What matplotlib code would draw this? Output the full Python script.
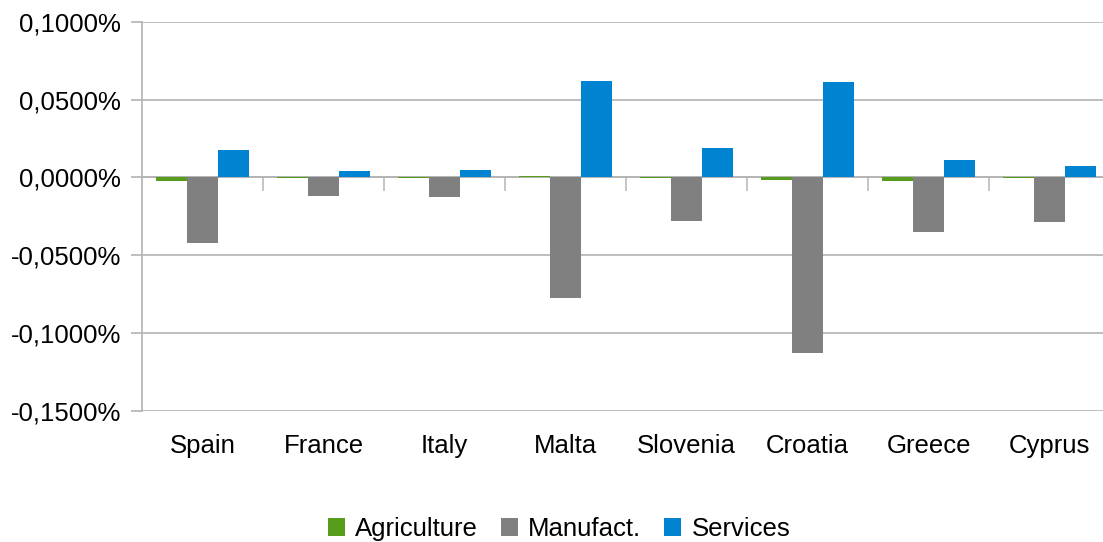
import matplotlib.pyplot as plt
import numpy as np
from matplotlib.ticker import FuncFormatter, FixedLocator

countries = ['Spain', 'France', 'Italy', 'Malta', 'Slovenia', 'Croatia', 'Greece', 'Cyprus']
agriculture = [-0.0026, -0.0003, -0.0003, 0.0009, -0.0003, -0.0017, -0.0026, -0.0003]
manufact = [-0.0423, -0.0120, -0.0129, -0.0773, -0.0282, -0.1128, -0.0352, -0.0288]
services = [0.0174, 0.0039, 0.0045, 0.0619, 0.0187, 0.0612, 0.0110, 0.0071]
yticks = [-0.15, -0.10, -0.05, 0.0, 0.05, 0.10]

plt.rcParams['font.family'] = ['Liberation Sans', 'DejaVu Sans']
fs = 18.5

fig = plt.figure(figsize=(11.03, 5.42), dpi=100)
ax = fig.add_axes([142 / 1103, 131 / 542, 968 / 1103, 389 / 542])

x = np.arange(len(countries))
w = 31 / 121
ax.bar(x - w, agriculture, w, color='#579d1c', label='Agriculture', zorder=3)
ax.bar(x, manufact, w, color='#808080', label='Manufact.', zorder=3)
ax.bar(x + w, services, w, color='#0084d1', label='Services', zorder=3)

ax.set_xlim(-0.5, len(countries) - 0.5)
ax.set_ylim(-0.1503, 0.10)
ax.set_yticks(yticks)
ax.yaxis.set_major_formatter(FuncFormatter(lambda v, p: ('%.4f%%' % v).replace('.', ',')))
ax.grid(axis='y', color='#b3b3b3', lw=1.2)
ax.set_axisbelow(True)

for s in ['top', 'right']:
    ax.spines[s].set_visible(False)
ax.spines['left'].set_color('#b3b3b3')
ax.spines['left'].set_linewidth(1.2)
ax.spines['bottom'].set_position(('data', 0))
ax.spines['bottom'].set_color('#b3b3b3')
ax.spines['bottom'].set_linewidth(1.2)

ax.set_xticks(x)
ax.set_xticklabels(countries)
ax.xaxis.set_minor_locator(FixedLocator(x[:-1] + 0.5))
ax.tick_params(axis='x', which='major', length=0, pad=185, labelsize=fs)
ax.tick_params(axis='x', which='minor', length=10, width=1.3, color='#c0c0c0', direction='out')
ax.tick_params(axis='y', length=8, width=1.2, color='#b3b3b3', labelsize=fs, pad=7)

fig.legend(loc='center', bbox_to_anchor=(0.507, 13 / 542), ncol=3, frameon=False,
           fontsize=fs, handlelength=0.65, handleheight=0.65, handletextpad=0.4,
           columnspacing=0.9)

fig.savefig('out.png', dpi=100)
